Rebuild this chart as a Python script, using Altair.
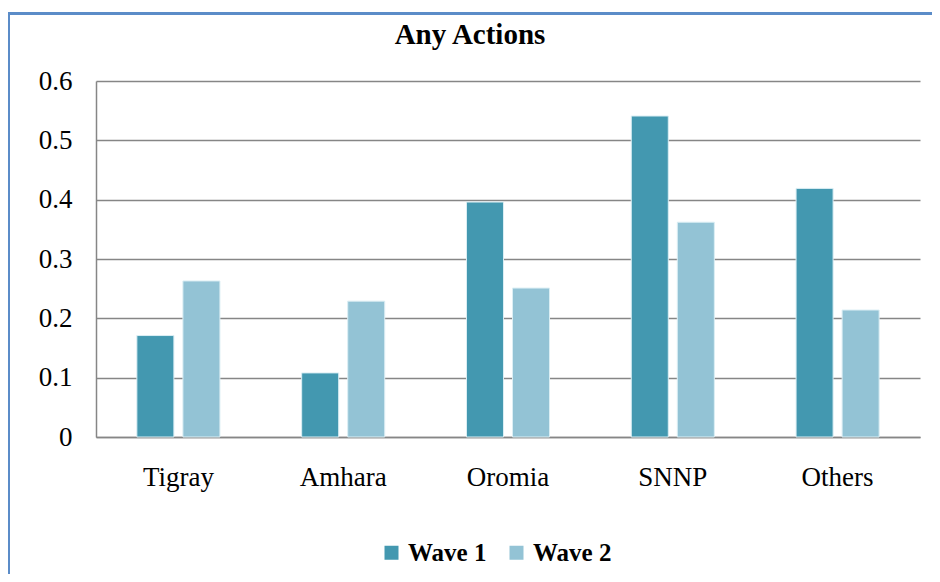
import altair as alt
import pandas as pd

regions = ["Tigray", "Amhara", "Oromia", "SNNP", "Others"]
wave1 = [0.171, 0.108, 0.396, 0.541, 0.419]
wave2 = [0.263, 0.229, 0.251, 0.362, 0.214]
series = ["Wave 1", "Wave 2"]
colors = ["#4398B0", "#93C3D5"]
title_text = "Any Actions"

rows = []
for i, r in enumerate(regions):
    rows.append({"region": r, "wave": series[0], "value": wave1[i]})
    rows.append({"region": r, "wave": series[1], "value": wave2[i]})
df = pd.DataFrame(rows)

FONT = "Liberation Serif"

bars = alt.Chart(df).mark_bar(stroke="#dbeef4", strokeWidth=1).encode(
    x=alt.X("region:N", sort=regions, title=None,
            scale=alt.Scale(paddingInner=0.496, paddingOuter=0.248),
            axis=alt.Axis(labelAngle=0, labelFontSize=27, labelFont=FONT, labelColor="#000000",
                          ticks=False, labelPadding=27, domainColor="#868686", domainWidth=1.5)),
    xOffset=alt.XOffset("wave:N", sort=series,
                        scale=alt.Scale(paddingInner=0.196, paddingOuter=0)),
    y=alt.Y("value:Q", title=None,
            scale=alt.Scale(domain=[0, 0.6], nice=False),
            axis=alt.Axis(values=[0, 0.1, 0.2, 0.3, 0.4, 0.5, 0.6], format="~g",
                          labelFontSize=27, labelFont=FONT, labelColor="#000000",
                          ticks=False, labelPadding=24, domainColor="#868686", domainWidth=1.5,
                          grid=True, gridColor="#868686", gridWidth=1.6)),
    color=alt.Color("wave:N", sort=series,
                    scale=alt.Scale(domain=series, range=colors),
                    legend=alt.Legend(title=None, orient="none", direction="horizontal",
                                      legendX=283, legendY=459,
                                      symbolType="square", symbolSize=196, symbolStrokeWidth=0,
                                      labelFont=FONT, labelFontSize=25, labelFontWeight="bold",
                                      labelColor="#000000", columnPadding=17, labelOffset=4)),
)

one_df = pd.DataFrame({"t": [title_text]})
title = alt.Chart(one_df).mark_text(font=FONT, fontSize=29, fontWeight="bold", color="#000000",
                                    align="center", baseline="alphabetic").encode(
    text="t:N", x=alt.value(374), y=alt.value(-37.5)
)

top_border = alt.Chart(one_df).mark_rule(color="#5B8CC8", strokeWidth=3).encode(
    x=alt.value(-88), x2=alt.value(900), y=alt.value(-67.5)
)
left_border = alt.Chart(one_df).mark_rule(color="#5B8CC8", strokeWidth=3).encode(
    x=alt.value(-87.5), y=alt.value(-69), y2=alt.value(600)
)

chart = alt.layer(bars, title, top_border, left_border).properties(
    width=824, height=356,
    autosize=alt.AutoSizeParams(type="none"),
    padding={"left": 88, "top": 73, "right": 12, "bottom": 137},
).configure_view(stroke=None)

chart.save("out.html", embed_options={"renderer": "svg", "actions": False})
